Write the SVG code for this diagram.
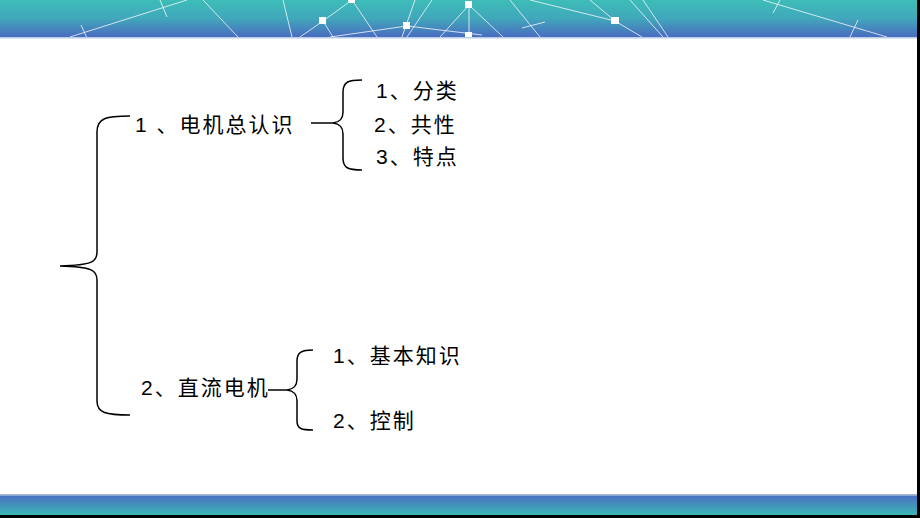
<svg xmlns="http://www.w3.org/2000/svg" width="920" height="518" viewBox="0 0 920 518">
<defs>
<linearGradient id="gTop" x1="0" y1="0" x2="0" y2="1">
<stop offset="0" stop-color="#3dbdb8"/>
<stop offset="0.5" stop-color="#41a7bb"/>
<stop offset="1" stop-color="#4a6cc0"/>
</linearGradient>
<linearGradient id="gBot" x1="0" y1="0" x2="0" y2="1">
<stop offset="0" stop-color="#4a70c2"/>
<stop offset="1" stop-color="#3bb8b4"/>
</linearGradient>
<clipPath id="cTop"><rect x="0" y="0" width="917" height="37"/></clipPath>
</defs>
<style>
.t{font-family:"Liberation Sans","Noto Sans CJK SC",sans-serif;font-size:21px;fill:#000;letter-spacing:2px}
.b{fill:none;stroke:#000;stroke-width:1.5}
.n{stroke:#fff;stroke-opacity:0.75;stroke-width:1;fill:none}
.sq{fill:#fff}
</style>
<rect x="0" y="0" width="920" height="518" fill="#fff"/>
<g id="banner-top">
<rect x="0" y="0" width="917" height="37" fill="url(#gTop)"/>
<g clip-path="url(#cTop)">
<path class="n" d="M70,37L187,0M81,25L87,38M160,0L167,17M203,0L238,37M283,0L292,37M300,37L323,21L352,0M323,21L333,37M352,0L377,37M330,37L407,26L482,35M415,0L402,37M432,0L407,37M469,5L440,37M469,5L469,35M469,5L503,37M510,0L540,37M522,28L545,22M530,0L615,21M590,0L615,21M615,21L642,37M630,0L663,37M643,0L668,37M763,0L887,37M773,13L780,0M850,37L858,20"/>
<rect class="sq" x="319" y="17" width="7" height="7"/>
<rect class="sq" x="348" y="-3" width="7" height="6"/>
<rect class="sq" x="403" y="22" width="7" height="7"/>
<rect class="sq" x="465" y="1" width="7" height="7"/>
<rect class="sq" x="465" y="32" width="7" height="7"/>
<rect class="sq" x="611" y="17" width="8" height="7"/>
</g>
<rect x="0" y="37" width="917" height="1.5" fill="#b8cde6"/>
</g>
<g id="banner-bottom">
<rect x="0" y="494" width="917" height="1.5" fill="#9fb8d8"/>
<rect x="0" y="495.5" width="917" height="20" fill="url(#gBot)"/>
<rect x="0" y="515" width="920" height="3" fill="#000"/>
<rect x="917" y="0" width="3" height="518" fill="#000"/>
</g>
<g id="connectors">
<path class="b" d="M130,116 C106,116 97,118 97,132 L97,252 C97,262 92,265 60,266 C92,267 97,270 97,280 L97,401 C97,413 106,415 130,415"/>
<path class="b" d="M311,123 L333,123 C340,122 343,119 343,112 L343,92 C343,82 348,80 362,80 M333,123 C340,124 343,127 343,134 L343,158 C343,168 348,170 362,170"/>
<path class="b" d="M268,390 L287,390 C294,389 297,386 297,379 L297,361 C297,352 302,350 313,350 M287,390 C294,391 297,394 297,401 L297,421 C297,429 302,430 313,430"/>
</g>
<g id="n-root1"><text class="t" x="135" y="132">1 、电机总认识</text></g>
<g id="n-a1"><text class="t" x="376" y="98">1、分类</text></g>
<g id="n-a2"><text class="t" x="374" y="132">2、共性</text></g>
<g id="n-a3"><text class="t" x="376" y="164">3、特点</text></g>
<g id="n-root2"><text class="t" x="141" y="395">2、直流电机</text></g>
<g id="n-b1"><text class="t" x="333" y="363">1、基本知识</text></g>
<g id="n-b2"><text class="t" x="333" y="428">2、控制</text></g>
</svg>
